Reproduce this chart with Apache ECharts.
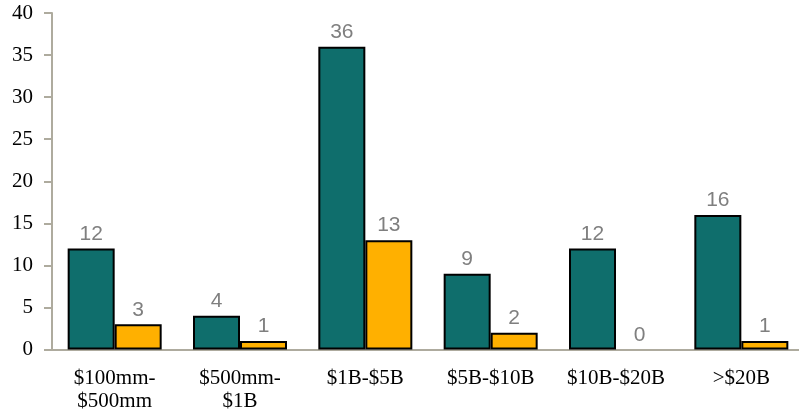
<!DOCTYPE html>
<html>
<head>
<meta charset="utf-8">
<script src="https://cdn.jsdelivr.net/npm/echarts@6/dist/echarts.min.js"></script>
<style>
  html, body { margin: 0; padding: 0; background: #fff; overflow: hidden; }
  /* the plot runs a few pixels past the right edge of the view */
  #chart { width: 804px; height: 415px; }
</style>
</head>
<body>
<div id="chart"></div>
<script>
// Deal size buckets and counts for the two series
const categories = ['$100mm-\n$500mm', '$500mm-\n$1B', '$1B-$5B', '$5B-$10B', '$10B-$20B', '>$20B'];
const seriesA = [12, 4, 36, 9, 12, 16];
const seriesB = [3, 1, 13, 2, 0, 1];
const yTicks = { min: 0, max: 40, interval: 5 };

const axisGray = '#aeab9e';
const labelStyle = {
  show: true,
  position: 'top',
  distance: 4,
  color: '#7f7f7f',
  fontFamily: 'Liberation Sans, Arial, sans-serif',
  fontSize: 21
};

// zero-height bars draw no outline
function toData(values) {
  return values.map(v => v === 0
    ? { value: v, itemStyle: { borderWidth: 0 } }
    : v);
}

const chart = echarts.init(document.getElementById('chart'), null, { renderer: 'canvas' });
chart.setOption({
  animation: false,
  grid: { left: 52, right: 0, top: 13, bottom: 65.5, containLabel: false },
  xAxis: {
    type: 'category',
    data: categories,
    axisLine: { lineStyle: { color: axisGray, width: 2 } },
    axisTick: { alignWithLabel: true, length: 8, lineStyle: { color: axisGray, width: 2 } },
    axisLabel: {
      color: '#000',
      fontFamily: 'Liberation Serif, Times New Roman, serif',
      fontSize: 21,
      lineHeight: 23,
      margin: 17,
      interval: 0
    }
  },
  yAxis: {
    type: 'value',
    min: yTicks.min,
    max: yTicks.max,
    interval: yTicks.interval,
    splitLine: { show: false },
    axisLine: { show: true, lineStyle: { color: axisGray, width: 2 } },
    axisTick: { show: true, length: 8, lineStyle: { color: axisGray, width: 2 } },
    axisLabel: {
      color: '#000',
      fontFamily: 'Liberation Serif, Times New Roman, serif',
      fontSize: 21,
      margin: 19
    }
  },
  series: [
    {
      type: 'bar',
      data: toData(seriesA),
      barWidth: 47,
      barGap: '0%',
      itemStyle: { color: '#0f6e6c', borderColor: '#000', borderWidth: 2 },
      label: labelStyle
    },
    {
      type: 'bar',
      data: toData(seriesB),
      barWidth: 47,
      barGap: '0%',
      itemStyle: { color: '#ffb000', borderColor: '#000', borderWidth: 2 },
      label: labelStyle
    }
  ]
});
</script>
</body>
</html>
